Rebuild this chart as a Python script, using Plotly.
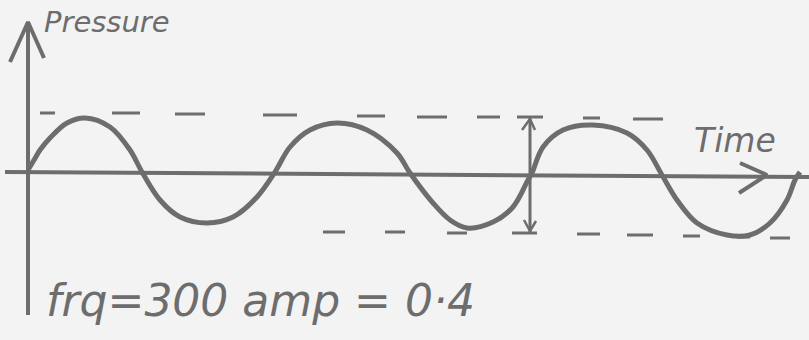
import plotly.graph_objects as go

INK = "#6d6d6d"
PAPER = "#f3f3f3"

# wave (x = time in px, y = screen px, y grows downward)
wave_x = [28, 34, 40, 50, 67, 85, 110, 130, 142, 160, 180, 207, 233, 257, 275,
          290, 310, 337, 367, 397, 410, 433, 450, 467, 493, 513, 528, 532, 543,
          563, 593, 627, 647, 662, 677, 697, 727, 750, 770, 787, 795, 800]
wave_y = [170, 160, 150, 138, 123, 118, 127, 150, 172, 200, 217, 223, 217, 197, 172,
          147, 130, 123, 130, 153, 173, 203, 220, 228, 222, 207, 180, 173, 147,
          130, 125, 133, 150, 175, 200, 223, 235, 235, 223, 200, 180, 172]

# dash segments (start, end) along the two amplitude guide lines
top_dash = [(40, 55), (112, 140), (175, 205), (263, 297), (357, 385),
            (417, 447), (477, 500), (583, 600), (633, 663)]
top_y = [113, 113, 114, 115, 116, 117, 117, 118, 119]
bot_dash = [(323, 345), (385, 405), (447, 467), (577, 600), (627, 653),
            (683, 700), (737, 750), (770, 790)]
bot_y = [232, 232, 233, 234, 235, 236, 237, 238]


def segs(pairs, ys):
    xs, yy = [], []
    for (a, b), y in zip(pairs, ys):
        xs += [a, b, None]
        yy += [y, y, None]
    return xs, yy


fig = go.Figure()

# axes of the sketch
fig.add_trace(go.Scatter(x=[28, 28], y=[315, 23], mode="lines",
                         line=dict(color=INK, width=4)))
fig.add_trace(go.Scatter(x=[10, 28, 44], y=[62, 22, 58], mode="lines",
                         line=dict(color=INK, width=4)))
fig.add_trace(go.Scatter(x=[5, 809], y=[172, 177], mode="lines",
                         line=dict(color=INK, width=4)))
fig.add_trace(go.Scatter(x=[740, 767, 739], y=[163, 175, 193], mode="lines",
                         line=dict(color=INK, width=4)))

# dashed guide lines
tx, ty = segs(top_dash, top_y)
bx, by = segs(bot_dash, bot_y)
fig.add_trace(go.Scatter(x=tx, y=ty, mode="lines", connectgaps=False,
                         line=dict(color=INK, width=3)))
fig.add_trace(go.Scatter(x=bx, y=by, mode="lines", connectgaps=False,
                         line=dict(color=INK, width=3)))

# amplitude double arrow
fig.add_trace(go.Scatter(x=[517, 543, None, 512, 537, None, 530, 530],
                         y=[117, 117, None, 233, 233, None, 117, 233],
                         mode="lines", line=dict(color=INK, width=3)))
fig.add_trace(go.Scatter(x=[522, 530, 535, None, 524, 530, 536],
                         y=[130, 119, 130, None, 220, 231, 221],
                         mode="lines", line=dict(color=INK, width=2.5)))

# the wave
fig.add_trace(go.Scatter(x=wave_x, y=wave_y, mode="lines",
                         line=dict(color=INK, width=5, shape="spline", smoothing=1.0)))

hand = "DejaVu Sans"
fig.add_annotation(x=42, y=22, text="<i>Pressure</i>", showarrow=False,
                   xanchor="left", yanchor="middle",
                   font=dict(family=hand, size=29, color=INK))
fig.add_annotation(x=692, y=140, text="<i>Time</i>", showarrow=False,
                   xanchor="left", yanchor="middle",
                   font=dict(family=hand, size=33, color=INK))
fig.add_annotation(x=44, y=300, text="<i>frq=300 amp = 0·4</i>", showarrow=False,
                   xanchor="left", yanchor="middle",
                   font=dict(family=hand, size=44, color=INK))

fig.update_layout(
    width=809, height=340,
    margin=dict(l=0, r=0, t=0, b=0),
    paper_bgcolor=PAPER, plot_bgcolor=PAPER,
    showlegend=False,
    xaxis=dict(range=[0, 809], visible=False, fixedrange=True),
    yaxis=dict(range=[340, 0], visible=False, fixedrange=True),
)

# page body: no margin so the sketch fills the window
fig.write_html("out.html", config={"displayModeBar": False},
               post_script="document.body.style.margin='0';"
                           "document.body.style.background='%s';" % PAPER)
